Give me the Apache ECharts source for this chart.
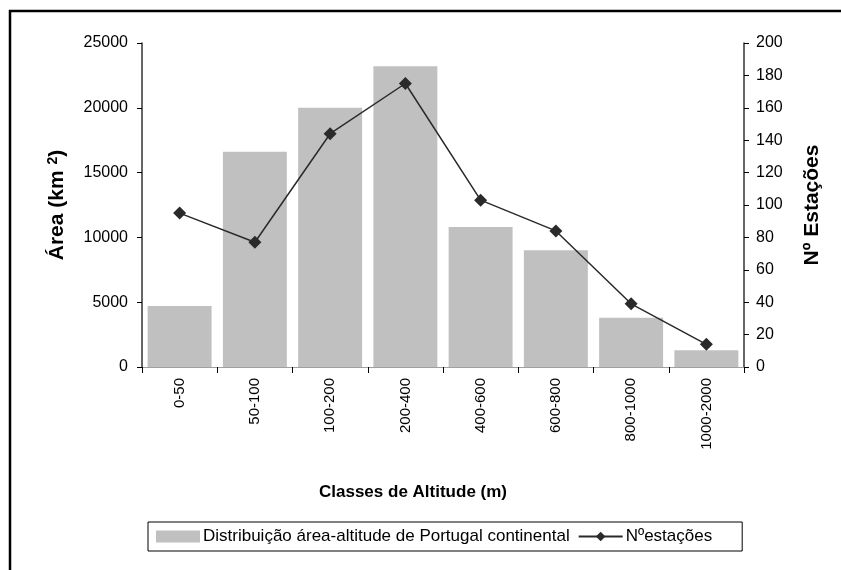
<!DOCTYPE html>
<html>
<head>
<meta charset="utf-8">
<script src="https://cdn.jsdelivr.net/npm/echarts@6/dist/echarts.min.js"></script>
<style>
  html, body { margin: 0; padding: 0; background: #fff; }
  #chart { width: 841px; height: 570px; }
</style>
</head>
<body>
<div id="chart"></div>
<script>
// classes de altitude
const classes = ['0-50', '50-100', '100-200', '200-400', '400-600', '600-800', '800-1000', '1000-2000']
// area (km2) por classe
const areaKm2 = [4700, 16600, 20000, 23200, 10800, 9000, 3800, 1300]
// numero de estacoes por classe
const nEstacoes = [95, 77, 144, 175, 103, 84, 39, 14]

const font = '"Liberation Sans", Arial, sans-serif'

const chart = echarts.init(document.getElementById('chart'))
const option = {
  animation: false,
  backgroundColor: '#fff',
  textStyle: { fontFamily: font },
  grid: { left: 142, right: 97, top: 43, bottom: 203 },
  legend: {
    left: 148,
    top: 522,
    padding: [6, 30, 6, 8],
    borderColor: '#000',
    borderWidth: 1,
    itemGap: 8,
    itemWidth: 44,
    itemHeight: 12,
    textStyle: { fontFamily: font, fontSize: 17, color: '#000', padding: [0, 0, 0, -2] },
    data: [
      { name: 'Distribuição área-altitude de Portugal continental', icon: 'rect' },
      { name: 'Nºestações' }
    ]
  },
  xAxis: [
    {
      type: 'category',
      data: classes,
      name: 'Classes de Altitude (m)',
      nameLocation: 'middle',
      nameGap: 117,
      nameTextStyle: { fontFamily: font, fontSize: 17, fontWeight: 'bold', color: '#000', padding: [0, 60, 0, 0] },
      axisLine: { lineStyle: { color: '#000', width: 1 } },
      axisTick: { show: true, length: 6, lineStyle: { color: '#000' } },
      axisLabel: { rotate: 90, fontSize: 15, color: '#000', margin: 11 }
    },
    {
      type: 'category',
      position: 'top',
      data: classes,
      axisLine: { lineStyle: { color: '#a0a0a0', width: 1 } },
      axisTick: { show: false },
      axisLabel: { show: false }
    }
  ],
  yAxis: [
    {
      type: 'value',
      min: 0,
      max: 25000,
      interval: 5000,
      name: 'Área (km {sup|2})',
      nameLocation: 'middle',
      nameRotate: 90,
      nameGap: 74,
      nameTextStyle: {
        fontFamily: font, fontSize: 21, fontWeight: 'bold', color: '#000',
        rich: { sup: { fontFamily: font, fontSize: 14, fontWeight: 'bold', color: '#000', verticalAlign: 'top', padding: [0, 0, 8, 0] } }
      },
      axisLine: { show: true, lineStyle: { color: '#333', width: 1.5 } },
      axisTick: { show: true, length: 5, lineStyle: { color: '#000' } },
      axisLabel: { fontSize: 16, color: '#000', margin: 14, formatter: v => String(v) },
      splitLine: { show: false }
    },
    {
      type: 'value',
      min: 0,
      max: 200,
      interval: 20,
      name: 'Nº Estações',
      nameLocation: 'middle',
      nameRotate: 90,
      nameGap: 58,
      nameTextStyle: { fontFamily: font, fontSize: 21, fontWeight: 'bold', color: '#000' },
      axisLine: { show: true, lineStyle: { color: '#333', width: 1.5 } },
      axisTick: { show: true, length: 5, lineStyle: { color: '#000' } },
      axisLabel: { fontSize: 16, color: '#000', margin: 12 },
      splitLine: { show: false }
    }
  ],
  series: [
    {
      name: 'Distribuição área-altitude de Portugal continental',
      type: 'bar',
      data: areaKm2,
      barCategoryGap: '15%',
      itemStyle: { color: '#c0c0c0' }
    },
    {
      name: 'Nºestações',
      type: 'line',
      yAxisIndex: 1,
      data: nEstacoes,
      symbol: 'diamond',
      symbolSize: 13,
      lineStyle: { color: '#2a2a2a', width: 1.5 },
      itemStyle: { color: '#2a2a2a' }
    }
  ],
  graphic: [
    { type: 'line', shape: { x1: 9, y1: 11, x2: 841, y2: 11 }, style: { stroke: '#000', lineWidth: 2.5 } },
    { type: 'line', shape: { x1: 10, y1: 10, x2: 10, y2: 570 }, style: { stroke: '#000', lineWidth: 2.5 } }
  ]
}
chart.setOption(option)
</script>
</body>
</html>
